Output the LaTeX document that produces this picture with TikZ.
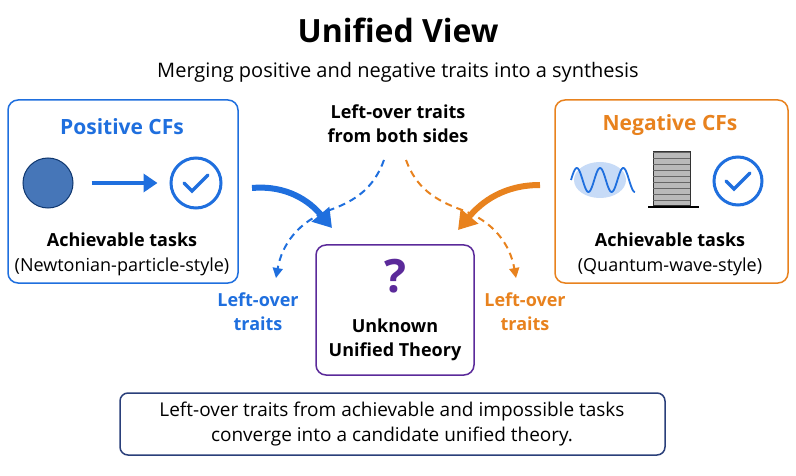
\documentclass[tikz,border=0pt]{standalone}
\usepackage{fontspec}
\setmainfont{Open Sans}
\usepackage{xcolor}
\usetikzlibrary{arrows.meta,positioning,shapes,calc}
\definecolor{cfblue}{HTML}{1F6FDE}
\definecolor{cforange}{HTML}{E8821E}
\definecolor{cfpurple}{HTML}{5B2A9A}
\definecolor{cfnavy}{HTML}{2A3F7A}
\begin{document}
\begin{tikzpicture}[
  x=1pt, y=-1pt,
  panel/.style={rectangle, rounded corners=10pt, line width=1.5pt, fill=white},
  lbl/.style={font=\fontsize{18}{24}\selectfont\bfseries, align=center},
  sub/.style={font=\fontsize{18}{24}\selectfont, align=center},
  bigarrow/.style={-{Triangle[length=18pt,width=22pt]}, line width=6pt},
  dasharrow/.style={-{Triangle[length=10pt,width=10pt]}, line width=2pt, dash pattern=on 7pt off 5pt},
  check/.style={circle, draw=cfblue, line width=3pt, minimum size=50pt}
]
\useasboundingbox (0,0) rectangle (796,476);

% Title
\node[font=\fontsize{32}{36}\selectfont\bfseries] (title) at (398,30) {Unified View};
\node[font=\fontsize{20}{24}\selectfont] (subtitle) at (398,72) {Merging positive and negative traits into a synthesis};

% Left panel: positive CFs
\draw[panel, draw=cfblue] (8,100) rectangle (238,283);
\node[lbl, text=cfblue, font=\fontsize{21}{24}\selectfont\bfseries] (postitle) at (122,127) {Positive CFs};
\node[circle, fill=cfblue!75!black!80, draw=cfblue!50!black, line width=1pt, minimum size=50pt] (planet) at (48,183) {};
\node[check] (poscheck) at (196,183) {};
\draw[cfblue, line width=3.4pt, line cap=round] ($(poscheck)+(-12,0)$) -- ++(8,8) -- ++(16,-16);
\draw[-{Triangle[length=14pt,width=18pt]}, line width=4pt, cfblue] (planet.east) ++(18,0) -- ($(poscheck.west)+(-12,0)$);
\node[lbl] (posach) at (122,240) {Achievable tasks};
\node[sub] (posstyle) at (122,267) {(Newtonian-particle-style)};

% Right panel: negative CFs
\draw[panel, draw=cforange] (555,100) rectangle (788,283);
\node[lbl, text=cforange, font=\fontsize{21}{24}\selectfont\bfseries] (negtitle) at (670,125) {Negative CFs};
\fill[cfblue!25] (600,180) ellipse (26pt and 18pt);
\draw[cfblue, line width=1.8pt, domain=0:64, samples=80] plot ({571+\x}, {180-12*sin(\x*15.5)});
\draw[fill=gray!55, draw=black!80, line width=1pt] (653,152) rectangle (690,206);
\foreach \r in {0,...,8} \draw[black!60] (653,152+6*\r) -- (690,152+6*\r);
\draw[black, line width=1.6pt] (648,207) -- (699,207);
\node[check, minimum size=48pt] (negcheck) at (738,181) {};
\draw[cfblue, line width=3.4pt, line cap=round] ($(negcheck)+(-12,0)$) -- ++(8,8) -- ++(16,-16);
\node[lbl] (negach) at (670,240) {Achievable tasks};
\node[sub] (negstyle) at (670,267) {(Quantum-wave-style)};

% Center
\node[lbl] (leftover) at (398,124) {Left-over traits\\from both sides};
\draw[panel, draw=cfpurple] (316,245) rectangle (474,375);
\node[font=\fontsize{46}{48}\selectfont\bfseries, text=cfpurple] (qmark) at (395,276) {?};
\node[lbl] (unified) at (395,340) {Unknown\\Unified Theory};

% Big arrows
\draw[bigarrow, cfblue] (252,188) to[out=5, in=130] (332,228);
\draw[bigarrow, cforange] (540,185) to[out=180, in=50] (458,230);

% Dashed left-over branches
\coordinate (bstart) at (384,160);
\coordinate (ostart) at (406,160);
\draw[dasharrow, cfblue] (bstart) to[out=250, in=20] (330,210) to[out=200, in=80] (276,278);
\draw[dasharrow, cforange] (ostart) to[out=290, in=160] (462,210) to[out=-20, in=100] (516,278);
\node[lbl, text=cfblue] (bleft) at (258,312) {Left-over\\traits};
\node[lbl, text=cforange] (oleft) at (525,312) {Left-over\\traits};

% Bottom summary
\draw[panel, draw=cfnavy, rounded corners=8pt] (120,393) rectangle (665,455);
\node[sub, font=\fontsize{19}{25}\selectfont] (summary) at (392,424) {Left-over traits from achievable and impossible tasks\\converge into a candidate unified theory.};
\end{tikzpicture}
\end{document}
